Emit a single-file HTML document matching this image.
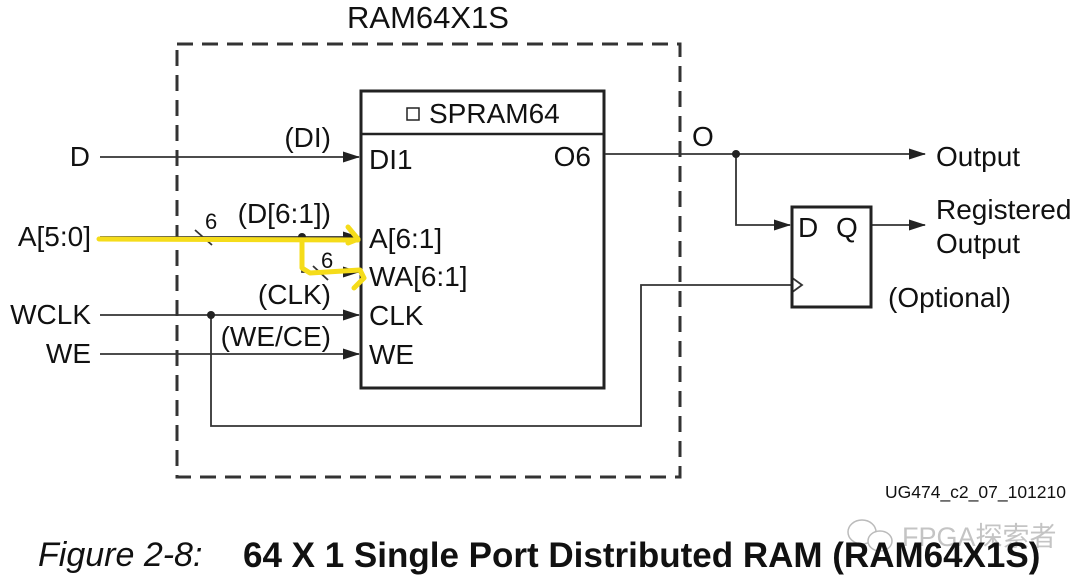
<!DOCTYPE html>
<html><head><meta charset="utf-8"><style>
html,body{margin:0;padding:0;background:#fff;}
svg{display:block;}
text{font-family:"Liberation Sans","Noto Sans CJK SC",sans-serif;fill:#111;}
</style></head><body>
<svg width="1080" height="582" viewBox="0 0 1080 582" xmlns="http://www.w3.org/2000/svg">
<defs>
<marker id="ar" markerWidth="17" markerHeight="11" refX="16" refY="5.5" orient="auto" markerUnits="userSpaceOnUse">
<path d="M0,0 L17,5.5 L0,11 Z" fill="#222"/></marker>
</defs>
<rect x="177" y="44" width="503" height="433" fill="none" stroke="#333" stroke-width="3" stroke-dasharray="16,9"/>
<text x="428" y="28" font-size="31" text-anchor="middle">RAM64X1S</text>
<rect x="361" y="91" width="243" height="297" fill="none" stroke="#222" stroke-width="3"/>
<line x1="361" y1="134" x2="604" y2="134" stroke="#222" stroke-width="2.5"/>
<rect x="407" y="108" width="12" height="12" fill="none" stroke="#222" stroke-width="1.5"/>
<text x="429" y="123" font-size="28">SPRAM64</text>
<text x="369" y="169" font-size="28">DI1</text>
<text x="591" y="166" font-size="28" text-anchor="end">O6</text>
<text x="369" y="248" font-size="28">A[6:1]</text>
<text x="369" y="286" font-size="28">WA[6:1]</text>
<text x="369" y="325" font-size="28">CLK</text>
<text x="369" y="364" font-size="28">WE</text>
<g stroke="#333" stroke-width="1.8" fill="none">
<line x1="100" y1="157" x2="359" y2="157" marker-end="url(#ar)"/>
<line x1="100" y1="237" x2="359" y2="237" marker-end="url(#ar)"/>
<polyline points="302,237 302,272 359,272" marker-end="url(#ar)"/>
<line x1="195" y1="230" x2="212" y2="245"/>
<line x1="313" y1="266" x2="328" y2="280"/>
<line x1="100" y1="315" x2="359" y2="315" marker-end="url(#ar)"/>
<line x1="100" y1="354" x2="359" y2="354" marker-end="url(#ar)"/>
<polyline points="211,315 211,426 641,426 641,285 791,285"/>
<polyline points="791,277 802,285 791,293"/>
<line x1="605" y1="154" x2="925" y2="154" marker-end="url(#ar)"/>
<polyline points="736,154 736,225 790,225" marker-end="url(#ar)"/>
<line x1="872" y1="225" x2="925" y2="225" marker-end="url(#ar)"/>
</g>
<circle cx="302" cy="237" r="4" fill="#222"/>
<circle cx="211" cy="315" r="4" fill="#222"/>
<circle cx="736" cy="154" r="4" fill="#222"/>
<rect x="792" y="207" width="79" height="100" fill="none" stroke="#222" stroke-width="3"/>
<text x="798" y="237" font-size="28">D</text>
<text x="836" y="237" font-size="28">Q</text>
<text x="90" y="166" font-size="28" text-anchor="end">D</text>
<text x="91" y="246" font-size="28" text-anchor="end">A[5:0]</text>
<text x="91" y="324" font-size="28" text-anchor="end">WCLK</text>
<text x="91" y="363" font-size="28" text-anchor="end">WE</text>
<text x="331" y="147" font-size="28" text-anchor="end">(DI)</text>
<text x="331" y="223" font-size="28" text-anchor="end">(D[6:1])</text>
<text x="205" y="229" font-size="22">6</text>
<text x="321" y="268" font-size="22">6</text>
<text x="331" y="304" font-size="28" text-anchor="end">(CLK)</text>
<text x="331" y="346" font-size="28" text-anchor="end">(WE/CE)</text>
<text x="692" y="146" font-size="28">O</text>
<text x="936" y="166" font-size="28">Output</text>
<text x="936" y="219" font-size="28">Registered</text>
<text x="936" y="253" font-size="28">Output</text>
<text x="888" y="307" font-size="28">(Optional)</text>
<g stroke="#f5dc1a" stroke-width="5" fill="none" stroke-linecap="round" stroke-linejoin="round">
<line x1="99" y1="239" x2="358" y2="240"/>
<polyline points="348,227 358,239 348,243"/>
<polyline points="302,240 302,268 310,273 360,270 364,278 354,288"/>
</g>
<text x="885" y="498" font-size="17.5" fill="#333">UG474_c2_07_101210</text>
<g stroke="#bbb" stroke-width="1.5" fill="#fff">
<ellipse cx="862" cy="532" rx="14" ry="12"/>
<ellipse cx="880" cy="541" rx="12" ry="10"/>
</g>
<text x="902" y="546" font-size="27" style="fill:#c4c4c4">FPGA探索者</text>
<text x="38" y="566" font-size="34" font-style="italic">Figure 2-8:</text>
<text x="243" y="567" font-size="35" font-weight="bold">64 X 1 Single Port Distributed RAM (RAM64X1S)</text>
</svg>
</body></html>
